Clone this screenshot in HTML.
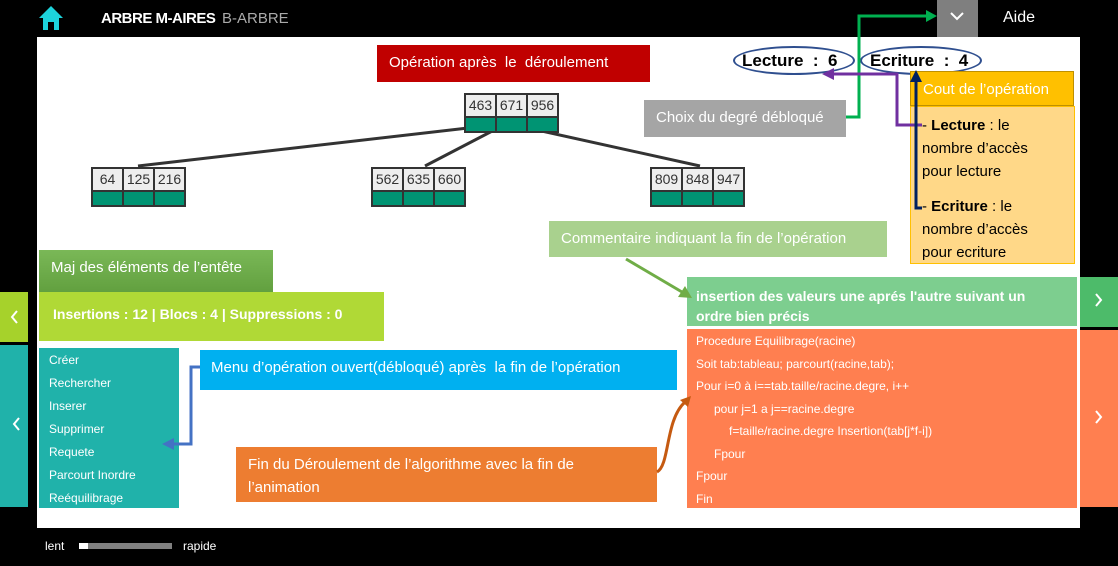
<!DOCTYPE html>
<html><head><meta charset="utf-8"><style>
*{margin:0;padding:0;box-sizing:border-box}
body{width:1118px;height:566px;background:#000;position:relative;overflow:hidden;font-family:"Liberation Sans",sans-serif}
.a{position:absolute}
.t{color:#fff;font-size:15px;white-space:nowrap}
.node{position:absolute;display:flex;border:2px solid #333;background:#333;gap:2px}
.node div{width:29px;height:36px;background:linear-gradient(#eee 0,#eee 21px,#333 21px,#333 23px,#009473 23px)}
.node span{display:block;text-align:center;font-size:14px;line-height:21px;color:#333}
.code div{height:22.5px;line-height:22.5px}
</style></head><body>
<svg class="a" style="left:38px;top:5px" width="26" height="26" viewBox="0 0 26 26"><path d="M13 1 L25 13 L21 13 L21 25 L16 25 L16 17 L10 17 L10 25 L5 25 L5 13 L1 13Z" fill="#1dd3dc"/></svg>
<div class="a t" style="left:101px;top:10px;font-weight:bold;font-size:15px;letter-spacing:-0.5px">ARBRE M-AIRES</div>
<div class="a t" style="left:222px;top:10px;color:#aaa">B-ARBRE</div>
<div class="a" style="left:937px;top:0;width:41px;height:37px;background:#7f7f7f"></div>
<svg class="a" style="left:949px;top:11px" width="16" height="10"><path d="M2 2 L8 8 L14 2" stroke="#fff" stroke-width="2" fill="none"/></svg>
<div class="a t" style="left:1003px;top:9px;font-size:16px">Aide</div>
<div class="a" style="left:37px;top:37px;width:1043px;height:491px;background:#fff"></div>
<div class="a" style="left:0;top:292px;width:28px;height:50px;background:#a6d22b"></div>
<svg class="a" style="left:10px;top:309px" width="10" height="16"><path d="M7 2 L2 8 L7 14" stroke="#fff" stroke-width="2" fill="none"/></svg>
<div class="a" style="left:0;top:345px;width:28px;height:162px;background:#20b2aa"></div>
<svg class="a" style="left:12px;top:416px" width="10" height="16"><path d="M7 2 L2 8 L7 14" stroke="#fff" stroke-width="2" fill="none"/></svg>
<div class="a" style="left:1080px;top:277px;width:38px;height:50px;background:#4dbb6a"></div>
<svg class="a" style="left:1094px;top:292px" width="10" height="16"><path d="M2 2 L7 8 L2 14" stroke="#fff" stroke-width="2" fill="none"/></svg>
<div class="a" style="left:1080px;top:330px;width:38px;height:177px;background:#ff7f50"></div>
<svg class="a" style="left:1094px;top:409px" width="10" height="16"><path d="M2 2 L7 8 L2 14" stroke="#fff" stroke-width="2" fill="none"/></svg>
<svg class="a" style="left:0;top:0" width="1118" height="566">
<line x1="468" y1="128" x2="138" y2="166" stroke="#333" stroke-width="3"/>
<line x1="498" y1="128" x2="425" y2="166" stroke="#333" stroke-width="3"/>
<line x1="528" y1="128" x2="700" y2="166" stroke="#333" stroke-width="3"/>
</svg>
<div class="node" style="left:464px;top:93px"><div><span>463</span></div><div><span>671</span></div><div><span>956</span></div></div>
<div class="node" style="left:91px;top:167px"><div><span>64</span></div><div><span>125</span></div><div><span>216</span></div></div>
<div class="node" style="left:371px;top:167px"><div><span>562</span></div><div><span>635</span></div><div><span>660</span></div></div>
<div class="node" style="left:650px;top:167px"><div><span>809</span></div><div><span>848</span></div><div><span>947</span></div></div>
<div class="a t" style="left:377px;top:45px;width:273px;height:37px;background:#c00000;padding:9px 0 0 12px">Opération après&nbsp; le&nbsp; déroulement</div>
<div class="a" style="left:733px;top:46px;width:122px;height:29px;border:2px solid #2f4f8f;border-radius:50%"></div>
<div class="a" style="left:860px;top:46px;width:122px;height:29px;border:2px solid #2f4f8f;border-radius:50%"></div>
<div class="a" style="left:742px;top:51px;font-size:17px;color:#000;font-weight:bold;white-space:nowrap">Lecture&nbsp; :&nbsp; 6</div>
<div class="a" style="left:870px;top:51px;font-size:17px;color:#000;font-weight:bold;white-space:nowrap">Ecriture&nbsp; :&nbsp; 4</div>
<div class="a t" style="left:644px;top:100px;width:202px;height:37px;background:#a5a5a5;padding:9px 0 0 12px">Choix du degré débloqué</div>
<div class="a" style="left:910px;top:106px;width:165px;height:158px;background:#ffd888;border:1px solid #ffc000"></div>
<div class="a t" style="left:910px;top:71px;width:164px;height:35px;background:#ffc000;border:1px solid #bf9000;padding:9px 0 0 12px">Cout de l’opération</div>
<div class="a" style="left:922px;top:114px;font-size:15px;line-height:23px;color:#000;width:150px;overflow:hidden;height:148px">- <b>Lecture</b> : le<br>nombre d’accès<br>pour lecture<br><div style="height:12px"></div>- <b>Ecriture</b> : le<br>nombre d’accès<br>pour ecriture</div>
<div class="a t" style="left:549px;top:221px;width:338px;height:36px;background:#a9d18e;padding:9px 0 0 12px">Commentaire indiquant la fin de l’opération</div>
<div class="a t" style="left:687px;top:277px;width:390px;height:49px;background:#7dce8f;padding:9px 40px 0 9px;font-weight:bold;font-size:14px;line-height:20px;white-space:normal">insertion des valeurs une aprés l'autre suivant un ordre bien précis</div>
<div class="a t code" style="left:687px;top:329px;width:390px;height:179px;background:#ff7f50;padding:1px 0 0 9px;font-size:12px">
<div>Procedure Equilibrage(racine)</div><div>Soit tab:tableau; parcourt(racine,tab);</div><div>Pour i=0 à i==tab.taille/racine.degre, i++</div><div style="padding-left:18px">pour j=1 a j==racine.degre</div><div style="padding-left:33px">f=taille/racine.degre Insertion(tab[j*f-i])</div><div style="padding-left:18px">Fpour</div><div>Fpour</div><div>Fin</div></div>
<div class="a t" style="left:39px;top:250px;width:234px;height:42px;background:linear-gradient(#7ab857,#62a03f);padding:9px 0 0 12px">Maj des éléments de l’entête</div>
<div class="a t" style="left:39px;top:292px;width:345px;height:49px;background:#b0d936;padding:14px 0 0 14px;font-weight:bold;font-size:14px">Insertions : 12 | Blocs : 4 | Suppressions : 0</div>
<div class="a" style="left:39px;top:348px;width:140px;height:160px;background:#20b2aa"></div>
<div class="a t" style="left:49px;top:349px;font-size:12px;line-height:23px">Créer<br>Rechercher<br>Inserer<br>Supprimer<br>Requete<br>Parcourt Inordre<br>Reéquilibrage</div>
<div class="a t" style="left:200px;top:350px;width:477px;height:40px;background:#00b0f0;padding:9px 0 0 11px">Menu d’opération ouvert(débloqué) après&nbsp; la fin de l’opération</div>
<div class="a t" style="left:236px;top:447px;width:421px;height:55px;background:#ed7d31;padding:6px 60px 0 12px;line-height:23px;white-space:normal">Fin du Déroulement de l’algorithme avec la fin de l’animation</div>
<svg class="a" style="left:0;top:0" width="1118" height="566">
<polyline points="846,117 859,117 859,16 928,16" stroke="#00b050" stroke-width="3" fill="none"/>
<polygon points="937,16 926,10 926,22" fill="#00b050"/>
<polyline points="922,125 897,125 897,74 832,74" stroke="#7030a0" stroke-width="3" fill="none"/>
<polygon points="822,74 834,68 834,80" fill="#7030a0"/>
<polyline points="922,208 916,208 916,80" stroke="#002060" stroke-width="3" fill="none"/>
<polygon points="916,70 910,82 922,82" fill="#002060"/>
<line x1="626" y1="259" x2="682" y2="292" stroke="#70ad47" stroke-width="3"/>
<polygon points="692,298 678,297 685,286" fill="#70ad47"/>
<polyline points="200,367 191,367 191,444 172,444" stroke="#4472c4" stroke-width="3" fill="none"/>
<polygon points="162,444 174,438 174,450" fill="#4472c4"/>
<path d="M657,472 C670,465 665,420 685,402" stroke="#c55a11" stroke-width="3" fill="none"/>
<polygon points="691,396 680,400 688,407" fill="#c55a11"/>
</svg>
<div class="a t" style="left:45px;top:539px;font-size:12px">lent</div>
<div class="a" style="left:79px;top:543px;width:93px;height:6px;background:#808080"></div>
<div class="a" style="left:79px;top:543px;width:9px;height:6px;background:#fff"></div>
<div class="a t" style="left:183px;top:539px;font-size:12px">rapide</div>
</body></html>
